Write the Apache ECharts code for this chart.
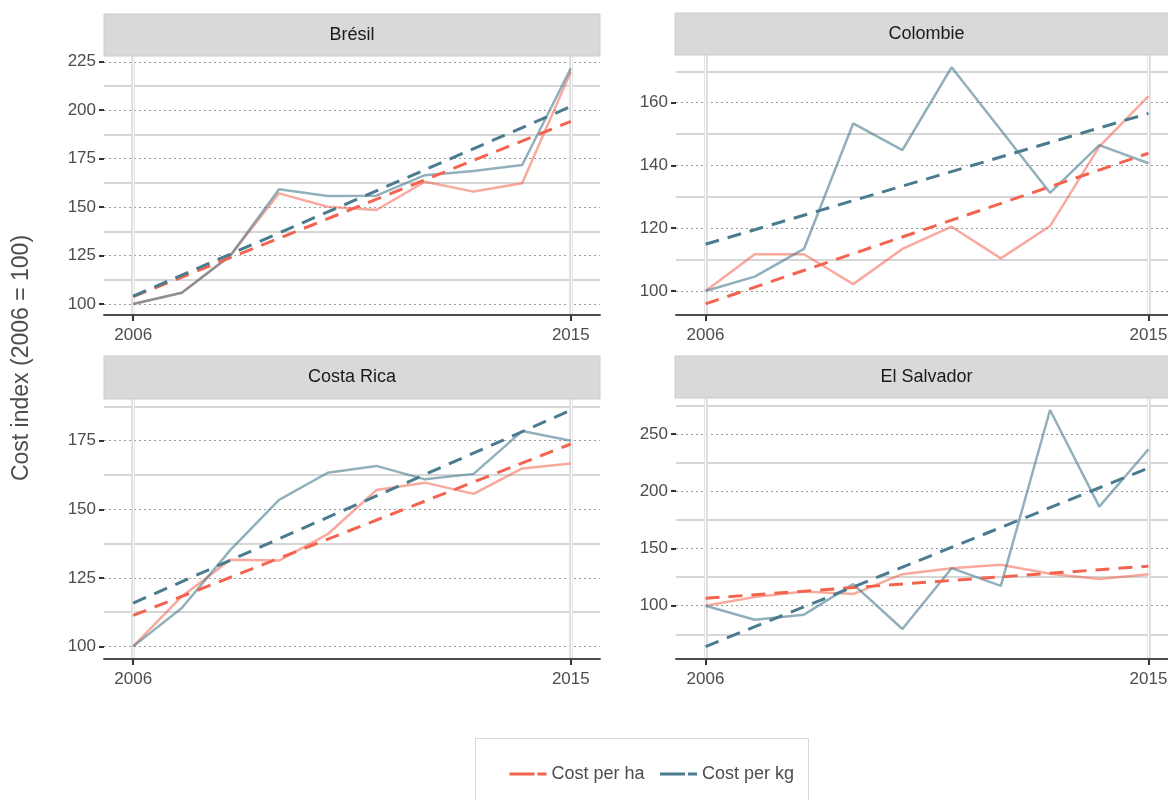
<!DOCTYPE html>
<html>
<head>
<meta charset="utf-8">
<script src="https://cdn.jsdelivr.net/npm/echarts@6/dist/echarts.min.js"></script>
<style>
  html, body { margin: 0; padding: 0; background: #ffffff; }
  #chart { width: 1168px; height: 800px; }
</style>
</head>
<body>
<div id="chart"></div>
<script>
// Cost indices, 2006 = 100
const years = [2006, 2007, 2008, 2009, 2010, 2011, 2012, 2013, 2014, 2015];
const countries = ['Brésil', 'Colombie', 'Costa Rica', 'El Salvador'];
const seriesNames = ['Cost per ha', 'Cost per kg'];

const bresilHa = [100, 105.8, 125, 157.1, 150.2, 148.5, 163.1, 158, 162.3, 219.9];
const bresilKg = [100, 105.8, 125, 159.2, 155.7, 155.9, 166.5, 168.6, 171.7, 221.6];
const colombieHa = [100, 111.7, 111.7, 102.2, 113.4, 120.5, 110.4, 120.7, 146, 162.1];
const colombieKg = [100, 104.6, 113.4, 153.4, 144.9, 171.3, 151.3, 131.3, 146.5, 140.7];
const costaRicaHa = [100, 118.2, 131.6, 131.3, 140.9, 157, 159.7, 155.6, 164.9, 166.7];
const costaRicaKg = [100, 114, 135.2, 153.4, 163.3, 165.8, 160.9, 162.9, 178.5, 175];
const salvadorHa = [100, 107.6, 112.5, 110.2, 127.6, 132.8, 135.8, 127.9, 123.3, 127.6];
const salvadorKg = [100, 87.8, 92.2, 118.9, 79.7, 132.8, 117.4, 270.9, 186.6, 236.6];

// Linear trend values at 2006 and 2015
const bresilHaTrend = [103.8, 194.2];
const bresilKgTrend = [104.0, 201.9];
const colombieHaTrend = [95.9, 143.9];
const colombieKgTrend = [114.9, 156.6];
const costaRicaHaTrend = [111.3, 173.8];
const costaRicaKgTrend = [115.8, 186.1];
const salvadorHaTrend = [106.5, 134.6];
const salvadorKgTrend = [64.4, 220.3];

// Tick labels
const xTicks = [2006, 2015];
const bresilTicks = [100, 125, 150, 175, 200, 225];
const colombieTicks = [100, 120, 140, 160];
const costaRicaTicks = [100, 125, 150, 175];
const salvadorTicks = [100, 150, 200, 250];

const haLine = '#f2644f';
const kgLine = '#4a7b8f';
const FONT = 'Liberation Sans, Arial, Helvetica, sans-serif';

const panels = [
  { name: countries[0], ha: bresilHa, kg: bresilKg, haT: bresilHaTrend, kgT: bresilKgTrend,
    ticks: bresilTicks, step: 25, yMin: 94.3, yMax: 228,
    grid: { left: 104, top: 56, width: 496, height: 259 }, strip: [104, 14, 496, 42] },
  { name: countries[1], ha: colombieHa, kg: colombieKg, haT: colombieHaTrend, kgT: colombieKgTrend,
    ticks: colombieTicks, step: 20, yMin: 92.36, yMax: 175.2,
    grid: { left: 676, top: 55, width: 502, height: 260 }, strip: [675, 13, 503, 42] },
  { name: countries[2], ha: costaRicaHa, kg: costaRicaKg, haT: costaRicaHaTrend, kgT: costaRicaKgTrend,
    ticks: costaRicaTicks, step: 25, yMin: 95.4, yMax: 190.2,
    grid: { left: 104, top: 399, width: 496, height: 260 }, strip: [104, 356, 496, 43] },
  { name: countries[3], ha: salvadorHa, kg: salvadorKg, haT: salvadorHaTrend, kgT: salvadorKgTrend,
    ticks: salvadorTicks, step: 50, yMin: 53.5, yMax: 281.4,
    grid: { left: 676, top: 398, width: 502, height: 261 }, strip: [675, 356, 503, 42] }
];

const pairs = (xs, ys) => xs.map((x, i) => [x, ys[i]]);
const trendYears = [years[0], years[years.length - 1]];

const grid = [], xAxis = [], yAxis = [], series = [], graphic = [];

panels.forEach((p, k) => {
  grid.push(Object.assign({ containLabel: false, outerBoundsMode: 'none' }, p.grid));

  xAxis.push({
    type: 'value', gridIndex: k, min: 2005.4, max: 2015.6,
    axisLine: { show: true, onZero: false, lineStyle: { color: '#4d4d4d', width: 2 } },
    axisTick: { show: true, customValues: xTicks, length: 6, lineStyle: { color: '#333', width: 2 } },
    axisLabel: { customValues: xTicks, formatter: v => String(v), fontSize: 17, color: '#4d4d4d',
                 fontFamily: FONT, margin: 12, hideOverlap: false },
    splitLine: { show: true, lineStyle: { color: '#d8d8d8', width: 3.5 } }
  });

  yAxis.push({
    type: 'value', gridIndex: k, min: p.yMin, max: p.yMax,
    minInterval: p.step, maxInterval: p.step,
    axisLine: { show: false },
    axisTick: { show: true, customValues: p.ticks, length: 5, lineStyle: { color: '#333', width: 2 } },
    axisLabel: { customValues: p.ticks, fontSize: 17, color: '#4d4d4d', fontFamily: FONT, margin: 8 },
    splitLine: { show: true, lineStyle: { color: '#9a9a9a', width: 1.2, type: [2, 3] } },
    minorTick: { show: false, splitNumber: 2 },
    minorSplitLine: { show: true, lineStyle: { color: '#d6d6d6', width: 2 } }
  });

  // dashed linear trends
  series.push({
    name: seriesNames[0], type: 'line', xAxisIndex: k, yAxisIndex: k, z: 4,
    data: pairs(trendYears, p.haT), symbol: 'none', silent: true,
    lineStyle: { color: haLine, width: 3, type: [14, 9] }, itemStyle: { color: haLine }
  });
  series.push({
    name: seriesNames[1], type: 'line', xAxisIndex: k, yAxisIndex: k, z: 4,
    data: pairs(trendYears, p.kgT), symbol: 'none', silent: true,
    lineStyle: { color: kgLine, width: 3, type: [14, 9] }, itemStyle: { color: kgLine }
  });
  // observed indices
  series.push({
    name: seriesNames[0], type: 'line', xAxisIndex: k, yAxisIndex: k, z: 3,
    data: pairs(years, p.ha), symbol: 'none', silent: true,
    lineStyle: { color: haLine, width: 2.5, opacity: 0.55 }
  });
  series.push({
    name: seriesNames[1], type: 'line', xAxisIndex: k, yAxisIndex: k, z: 3,
    data: pairs(years, p.kg), symbol: 'none', silent: true,
    lineStyle: { color: kgLine, width: 2.5, opacity: 0.6 }
  });

  // facet strip
  const [sx, sy, sw, sh] = p.strip;
  graphic.push({
    type: 'rect', z: 10,
    shape: { x: sx, y: sy, width: sw, height: sh },
    style: { fill: '#d9d9d9', stroke: '#cccccc', lineWidth: 1 }
  });
  graphic.push({
    type: 'text', z: 11, x: sx + sw / 2, y: sy + sh / 2,
    style: { text: p.name, fill: '#1a1a1a', font: '18px ' + FONT, align: 'center', verticalAlign: 'middle' }
  });
});

// white core of the vertical year gridlines
panels.forEach((p, k) => {
  xAxis.push({
    type: 'value', gridIndex: k, min: 2005.4, max: 2015.6,
    axisLine: { show: false },
    axisTick: { show: false, customValues: xTicks },
    axisLabel: { show: false, customValues: xTicks },
    splitLine: { show: true, lineStyle: { color: '#ffffff', width: 1.2 } }
  });
});

// shared y-axis title
graphic.push({
  type: 'text', x: 22, y: 358, rotation: Math.PI / 2, z: 10,
  style: { text: 'Cost index (2006 = 100)', fill: '#4d4d4d', font: '23px ' + FONT,
           align: 'center', verticalAlign: 'middle' }
});
// legend frame
graphic.push({
  type: 'rect', z: 0,
  shape: { x: 475.5, y: 738.5, width: 333, height: 80 },
  style: { fill: 'none', stroke: '#d9d9d9', lineWidth: 1 }
});

const chart = echarts.init(document.getElementById('chart'), null, { renderer: 'canvas' });
chart.setOption({
  animation: false,
  backgroundColor: '#ffffff',
  textStyle: { fontFamily: FONT },
  grid, xAxis, yAxis, series, graphic,
  legend: {
    data: seriesNames, left: 503, top: 760, itemWidth: 37, itemHeight: 14, itemGap: 14,
    textStyle: { fontSize: 18, color: '#4d4d4d', fontFamily: FONT },
    itemStyle: { color: 'rgba(0,0,0,0)', borderWidth: 0 },
    lineStyle: { width: 3, type: [25, 3] },
    selectedMode: false
  }
});
</script>
</body>
</html>
